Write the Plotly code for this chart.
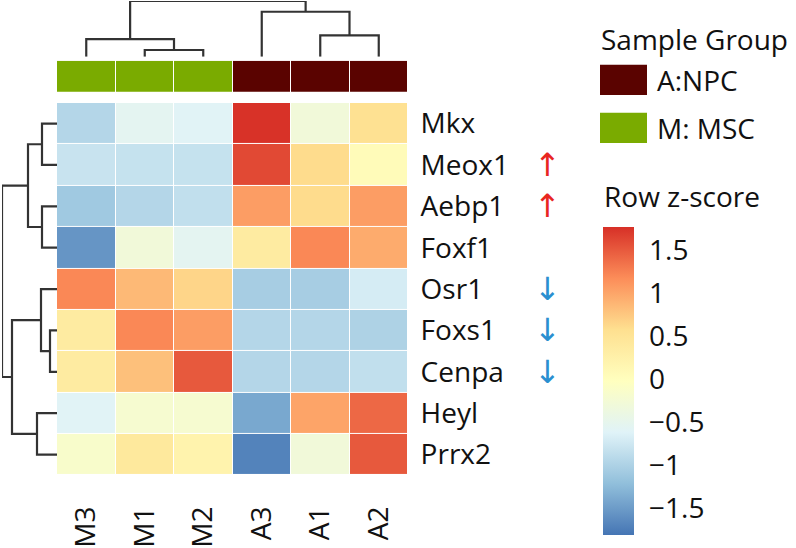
import plotly.graph_objects as go

# ---------------- data ----------------
samples = ["M3", "M1", "M2", "A3", "A1", "A2"]
sample_group = ["M", "M", "M", "A", "A", "A"]
genes = ["Mkx", "Meox1", "Aebp1", "Foxf1", "Osr1", "Foxs1", "Cenpa", "Heyl", "Prrx2"]
arrow_dir = ["", "up", "up", "", "down", "down", "down", "", ""]

z_Mkx   = [-0.95, -0.55, -0.60, 1.75, -0.30, 0.55]
z_Meox1 = [-0.80, -0.82, -0.82, 1.60, 0.60, 0.05]
z_Aebp1 = [-1.10, -0.95, -0.85, 1.05, 0.60, 1.05]
z_Foxf1 = [-1.55, -0.30, -0.55, 0.35, 1.20, 0.95]
z_Osr1  = [1.20, 0.85, 0.65, -1.05, -1.05, -0.70]
z_Foxs1 = [0.35, 1.20, 1.05, -0.95, -0.95, -1.00]
z_Cenpa = [0.35, 0.80, 1.50, -0.95, -0.95, -0.85]
z_Heyl  = [-0.60, -0.20, -0.20, -1.40, 1.00, 1.40]
z_Prrx2 = [-0.15, 0.40, 0.20, -1.70, -0.30, 1.50]
zmat = [z_Mkx, z_Meox1, z_Aebp1, z_Foxf1, z_Osr1, z_Foxs1, z_Cenpa, z_Heyl, z_Prrx2]
z_min, z_max = -1.81, 1.76

cbar_ticks = [-1.5, -1, -0.5, 0, 0.5, 1, 1.5]
cbar_text = ["\u22121.5", "\u22121", "\u22120.5", "0", "0.5", "1", "1.5"]

# hierarchical clustering merges: (left, right, height); ints refer to earlier merges
col_merges = [("M1", "M2", 7), ("M3", 0, 18), ("A1", "A2", 22), ("A3", 2, 46), (1, 3, 57)]
row_merges = [("Mkx", "Meox1", 15), ("Aebp1", "Foxf1", 15), (0, 1, 29),
              ("Foxs1", "Cenpa", 7), ("Osr1", 3, 16), ("Heyl", "Prrx2", 20),
              (4, 5, 45), (2, 6, 55)]

group_names = ["A:NPC", "M: MSC"]
group_keys = ["A", "M"]
group_colors = ["#5a0300", "#7aab00"]

diverging = ["#4575B4", "#91BFDB", "#E0F3F8", "#FFFFBF", "#FEE090", "#FC8D59", "#D73027"]

FONT = "Open Sans"
FS = 28
W, H = 796, 548


def px_x(p):
    return p / W


def px_y(p):
    return 1 - p / H


def dendro(merges, leaves):
    pos = {name: i for i, name in enumerate(leaves)}
    hgt = {name: 0 for name in leaves}
    P, Hh = [], []
    for i, (a, b, h) in enumerate(merges):
        pa, pb, ha, hb = pos[a], pos[b], hgt[a], hgt[b]
        P += [pa, pa, pb, pb, None]
        Hh += [ha, h, h, hb, None]
        pos[i] = (pa + pb) / 2
        hgt[i] = h
    return P, Hh


fig = go.Figure()

xi = list(range(len(samples)))
yi = list(range(len(genes)))

# main heatmap
fig.add_trace(go.Heatmap(
    z=zmat, x=xi, y=yi, colorscale=[[i / 6, c] for i, c in enumerate(diverging)],
    zmin=z_min, zmax=z_max, xgap=1, ygap=1, hoverinfo="skip",
    colorbar=dict(
        x=px_x(603), xanchor="left", xpad=0, y=px_y(232), yanchor="top", ypad=0,
        thickness=31, lenmode="pixels", len=308, outlinewidth=0,
        tickvals=cbar_ticks, ticktext=cbar_text, ticks="outside", ticklen=10,
        tickcolor="rgba(0,0,0,0)", tickfont=dict(family=FONT, size=FS, color="#111"),
    ),
    xaxis="x", yaxis="y",
))

# annotation bar
gz = [[group_keys.index(g) for g in sample_group]]
fig.add_trace(go.Heatmap(
    z=gz, x=xi, y=[0], zmin=0, zmax=1,
    colorscale=[[0, group_colors[0]], [0.5, group_colors[0]], [0.5, group_colors[1]], [1, group_colors[1]]],
    showscale=False, xgap=1, hoverinfo="skip", xaxis="x2", yaxis="y2",
))

# top dendrogram
cp, ch = dendro(col_merges, samples)
fig.add_trace(go.Scatter(x=cp, y=ch, mode="lines", line=dict(color="#333333", width=2.2),
                         hoverinfo="skip", showlegend=False, xaxis="x3", yaxis="y3"))
# left dendrogram
rp, rh = dendro(row_merges, genes)
fig.add_trace(go.Scatter(x=rh, y=rp, mode="lines", line=dict(color="#333333", width=2.2),
                         hoverinfo="skip", showlegend=False, xaxis="x4", yaxis="y4"))

xr = [-0.5, len(samples) - 0.5]
yr = [len(genes) - 0.5, -0.5]
hm_x = [px_x(57), px_x(408)]
hm_y = [px_y(485), px_y(105)]

fig.update_layout(
    width=W, height=H, margin=dict(l=0, r=0, t=0, b=0),
    paper_bgcolor="white", plot_bgcolor="white", showlegend=False,
    xaxis=dict(domain=hm_x, range=xr, tickvals=xi, ticktext=samples, tickangle=-90,
               ticks="outside", ticklen=19, tickcolor="rgba(0,0,0,0)",
               tickfont=dict(family=FONT, size=FS, color="#111"),
               showgrid=False, zeroline=False, showline=False, anchor="y"),
    yaxis=dict(domain=hm_y, range=yr, tickvals=yi, ticktext=genes, side="right",
               ticks="outside", ticklen=6, tickcolor="rgba(0,0,0,0)",
               tickfont=dict(family=FONT, size=FS, color="#111"),
               showgrid=False, zeroline=False, showline=False, anchor="x"),
    xaxis2=dict(domain=hm_x, range=xr, visible=False, anchor="y2"),
    yaxis2=dict(domain=[px_y(94), px_y(62)], range=[-0.5, 0.5], visible=False, anchor="x2"),
    xaxis3=dict(domain=hm_x, range=xr, visible=False, anchor="y3"),
    yaxis3=dict(domain=[px_y(58), px_y(1)], range=[0, col_merges[-1][2]], visible=False, anchor="x3"),
    xaxis4=dict(domain=[px_x(2), px_x(57)], range=[row_merges[-1][2], 0], visible=False, anchor="y4"),
    yaxis4=dict(domain=hm_y, range=yr, visible=False, anchor="x4"),
)

# arrows next to gene labels
for g, d in zip(yi, arrow_dir):
    if d:
        fig.add_annotation(x=px_x(547), xref="paper", y=g, yref="y", xanchor="center", yanchor="middle",
                           text="\u2191" if d == "up" else "\u2193", showarrow=False,
                           font=dict(family="DejaVu Sans", size=32,
                                     color="#e8261f" if d == "up" else "#2a8fd0"))

# legend for sample groups
fig.add_annotation(x=px_x(599), y=px_y(40), xref="paper", yref="paper", xanchor="left", yanchor="middle",
                   text="Sample Group", showarrow=False, font=dict(family=FONT, size=FS, color="#111"))
box_tops = [66, 115]
for name, col, top in zip(group_names, group_colors, box_tops):
    fig.add_shape(type="rect", xref="paper", yref="paper", x0=px_x(600), x1=px_x(647),
                  y0=px_y(top + 31), y1=px_y(top), fillcolor=col, line=dict(width=0))
    fig.add_annotation(x=px_x(655), y=px_y(top + 15.5), xref="paper", yref="paper",
                       xanchor="left", yanchor="middle", text=name, showarrow=False,
                       font=dict(family=FONT, size=FS, color="#111"))

# colorbar title
fig.add_annotation(x=px_x(602), y=px_y(200), xref="paper", yref="paper", xanchor="left", yanchor="middle",
                   text="Row z-score", showarrow=False, font=dict(family=FONT, size=FS, color="#111"))

fig.write_html("out.html", config={"displayModeBar": False},
               post_script="document.body.style.margin='0px';")
